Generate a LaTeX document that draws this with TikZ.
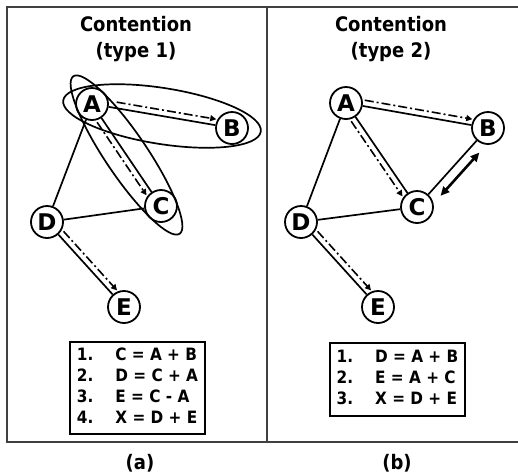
\documentclass[tikz,border=0pt]{standalone}
\usepackage{fontspec}
\setmainfont{DejaVu Sans Condensed}
\newfontfamily\vfont{DejaVu Sans}
\usetikzlibrary{calc,arrows.meta}
\begin{document}
\begin{tikzpicture}[x=1pt,y=-1pt,
  vtx/.style={circle,draw,line width=1.8pt,minimum size=32pt,inner sep=0pt,fill=white,
    font=\vfont\fontsize{23}{23}\selectfont\bfseries},
  edge/.style={line width=1.7pt},
  dd/.style={line width=1.6pt,dash pattern=on 9pt off 3pt on 2pt off 3pt,
    -{Triangle[length=6pt,width=6pt]},shorten <=18pt,shorten >=17pt},
  dbl/.style={line width=2.6pt,{Triangle[length=9pt,width=8pt]}-{Triangle[length=9pt,width=8pt]},
    shorten <=24pt,shorten >=24pt},
  ell/.style={line width=1.7pt},
  frame/.style={line width=1.6pt,draw=black!75},
  title/.style={align=center,font=\fontsize{20}{26}\selectfont\bfseries},
  eqbox/.style={draw,line width=2pt,minimum width=135pt,inner sep=0pt,
    font=\fontsize{17}{21}\selectfont\bfseries},
  sub/.style={font=\fontsize{20}{24}\selectfont\bfseries}
]
\useasboundingbox (0,0) rectangle (518,475);
% frame
\draw[frame] (518,7) -- (7,7) -- (7,442) -- (518,442);
\draw[frame] (267,7) -- (267,442);

% ---------- panel (a)
\node[title] (t1) at (136,39) {Contention\\(type 1)};
\node[vtx] (a1) at (92,104) {A};
\node[vtx] (b1) at (232,128) {B};
\node[vtx] (c1) at (161,206) {C};
\node[vtx] (d1) at (47,222) {D};
\node[vtx] (e1) at (124,307) {E};

\coordinate (mab) at ($(a1)!0.5!(b1)$);
\coordinate (mac) at ($(a1)!0.5!(c1)$);
\draw[ell,rotate around={-9:(mab)}] (mab) ellipse [x radius=100pt,y radius=28pt];
\draw[ell,rotate around={-56:(mac)}] (mac) ellipse [x radius=95pt,y radius=21pt];

\draw[edge] (a1) -- (b1);
\draw[edge] (a1) -- (c1);
\draw[edge] (a1) -- (d1);
\draw[edge] (d1) -- (c1);
\draw[edge] (d1) -- (e1);
\draw[dd,shorten <=24pt] ($(a1)!6pt!90:(b1)$) -- ($(b1)!6pt!-90:(a1)$);
\draw[dd] ($(a1)!6pt!-90:(c1)$) -- ($(c1)!6pt!90:(a1)$);
\draw[dd] ($(d1)!6pt!90:(e1)$) -- ($(e1)!6pt!-90:(d1)$);

\node[eqbox,minimum height=92pt] (q1) at (137.5,388) {%
  \begin{tabular}{@{}l@{\hspace{22pt}}l@{}}
  1. & C = A + B\\
  2. & D = C + A\\
  3. & E = C - A\\
  4. & X = D + E
  \end{tabular}};
\node[sub] (la) at (140,463) {(a)};

% ---------- panel (b)
\node[title] (t2) at (391,39) {Contention\\(type 2)};
\node[vtx] (a2) at (346,103) {A};
\node[vtx] (b2) at (488,128) {B};
\node[vtx] (c2) at (417,207) {C};
\node[vtx] (d2) at (301,222) {D};
\node[vtx] (e2) at (378,307) {E};

\draw[edge] (a2) -- (b2);
\draw[edge] (a2) -- (c2);
\draw[edge] (a2) -- (d2);
\draw[edge] (d2) -- (c2);
\draw[edge] (d2) -- (e2);
\draw[edge] (b2) -- (c2);
\draw[dd] ($(a2)!6pt!90:(b2)$) -- ($(b2)!6pt!-90:(a2)$);
\draw[dd] ($(a2)!6pt!-90:(c2)$) -- ($(c2)!6pt!90:(a2)$);
\draw[dd] ($(d2)!6pt!90:(e2)$) -- ($(e2)!6pt!-90:(d2)$);
\draw[dbl] ($(c2)!10pt!-90:(b2)$) -- ($(b2)!10pt!90:(c2)$);

\node[eqbox,minimum height=73pt] (q2) at (397.5,379.5) {%
  \begin{tabular}{@{}l@{\hspace{22pt}}l@{}}
  1. & D = A + B\\
  2. & E = A + C\\
  3. & X = D + E
  \end{tabular}};
\node[sub] (lb) at (397,463) {(b)};
\end{tikzpicture}
\end{document}
